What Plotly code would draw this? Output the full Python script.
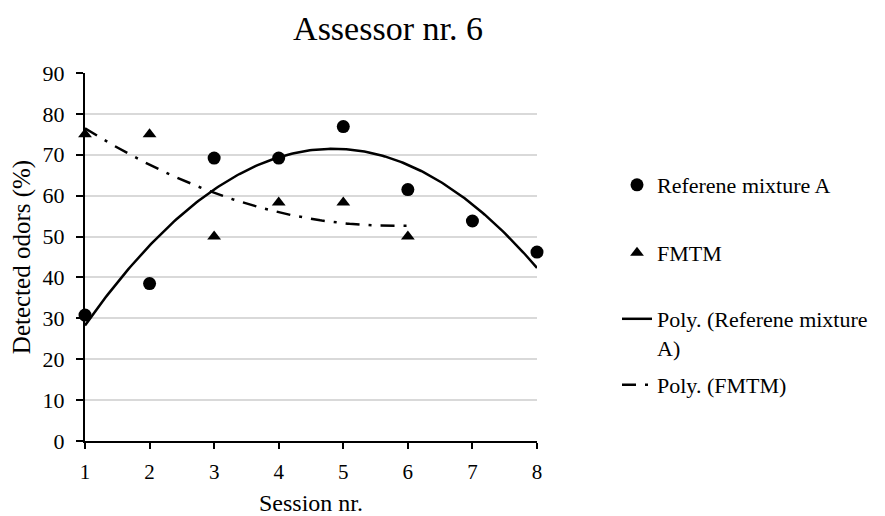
import numpy as np
import plotly.graph_objects as go

# Data
sessions_ref = [1, 2, 3, 4, 5, 6, 7, 8]
ref_values = [30.8, 38.5, 69.2, 69.2, 76.9, 61.5, 53.8, 46.2]
sessions_fmtm = [1, 2, 3, 4, 5, 6]
fmtm_values = [75.0, 75.0, 50.0, 58.3, 58.3, 50.0]
y_ticks = [0, 10, 20, 30, 40, 50, 60, 70, 80, 90]
x_ticks = [1, 2, 3, 4, 5, 6, 7, 8]

# Polynomial (order 2) trendlines fitted from the data, as in the original spreadsheet
def poly_trend(xs, ys):
    c = np.polyfit(xs, ys, 2)
    xx = np.linspace(min(xs), max(xs), 200)
    return xx, np.polyval(c, xx)

rx, ry = poly_trend(sessions_ref, ref_values)
fx, fy = poly_trend(sessions_fmtm, fmtm_values)

FONT = "Liberation Serif"
W, H = 877, 508  # page body adds an 8px offset in the 885x516 window

fig = go.Figure()
fig.add_trace(go.Scatter(x=sessions_ref, y=ref_values, mode="markers", name="Referene mixture A",
                         marker=dict(symbol="circle", size=13, color="black"),
                         cliponaxis=False, legend="legend"))
fig.add_trace(go.Scatter(x=sessions_fmtm, y=fmtm_values, mode="markers", name="FMTM",
                         marker=dict(symbol="triangle-up", size=12, color="black"),
                         cliponaxis=False, legend="legend2"))
fig.add_trace(go.Scatter(x=rx, y=ry, mode="lines", name="Poly. (Referene mixture<br>A)",
                         line=dict(color="black", width=2.5), cliponaxis=False, legend="legend3"))
fig.add_trace(go.Scatter(x=fx, y=fy, mode="lines", name="Poly. (FMTM)",
                         line=dict(color="black", width=2.5, dash="14px,9px,3px,9px"),
                         cliponaxis=False, legend="legend4"))

def leg(top):
    return dict(x=609 / W, xref="container", xanchor="left", y=1 - top / H, yref="container",
                yanchor="top", valign="top", font=dict(family=FONT, size=22, color="black"),
                bgcolor="rgba(0,0,0,0)")

fig.update_layout(
    width=W, height=H,
    margin=dict(l=77, r=W - 529, t=65, b=H - 433),
    paper_bgcolor="white", plot_bgcolor="white",
    font=dict(family=FONT, size=21, color="black"),
    title=dict(text="Assessor nr. 6", x=380 / W, xanchor="center", xref="container",
               y=1 - 20 / H, yanchor="middle", yref="container",
               font=dict(family=FONT, size=34, color="black")),
    legend=leg(156), legend2=leg(224), legend3=leg(290), legend4=leg(356),
    showlegend=True,
)
fig.update_xaxes(range=[1, 8], tickvals=x_ticks, showgrid=False, zeroline=False,
                 showline=True, linecolor="black", linewidth=2, automargin=False,
                 ticks="outside", ticklen=6, tickwidth=2, tickcolor="black",
                 ticklabelstandoff=5,
                 tickfont=dict(family=FONT, size=21, color="black"),
                 title=dict(text="Session nr.", font=dict(family=FONT, size=24, color="black"), standoff=14))
fig.update_yaxes(range=[0, 90], tickvals=y_ticks, showgrid=True, gridcolor="#d9d9d9", gridwidth=1.5,
                 zeroline=False, showline=True, linecolor="black", linewidth=2, automargin=False,
                 ticks="outside", ticklen=7, tickwidth=2, tickcolor="black",
                 ticklabelstandoff=7,
                 tickfont=dict(family=FONT, size=22, color="black"),
                 title=dict(text="Detected odors (%)", font=dict(family=FONT, size=25, color="black"), standoff=6))

fig.write_html("out.html")
